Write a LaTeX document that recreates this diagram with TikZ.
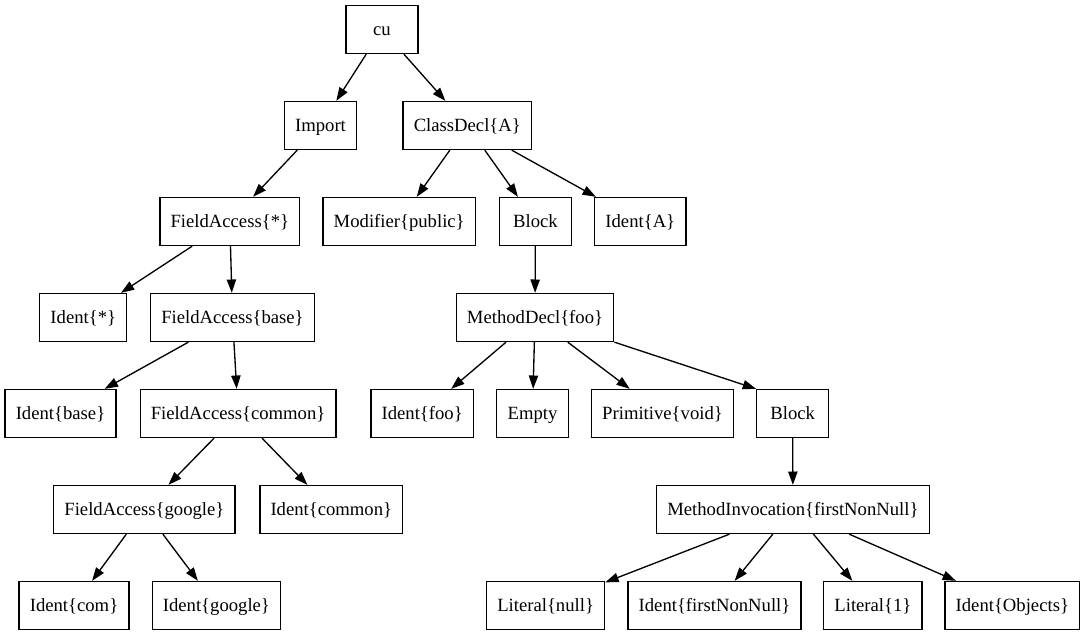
\documentclass[tikz,border=0pt]{standalone}
\usepackage{fontspec}
\setmainfont{Liberation Serif}
\usetikzlibrary{arrows.meta}
\begin{document}
\begin{tikzpicture}[x=0.75pt,y=-0.75pt,
  tnode/.style={draw=black,line width=1pt,rectangle,minimum width=54pt,minimum height=36pt,
    inner xsep=8pt,inner ysep=0pt,text height=11.5pt,text depth=2.3pt,
    font=\fontsize{14pt}{16pt}\selectfont,text=black},
  edge/.style={draw=black,line width=1pt,-{Triangle[length=10pt,width=7pt]}}]
\useasboundingbox (0,0) rectangle (1087,635);
% row 0
\node[tnode] (cu) at (382,29.5) {cu};
% row 1
\node[tnode] (imp) at (320.5,125.5) {Import};
\node[tnode] (cls) at (467.3,125.5) {ClassDecl\{A\}};
% row 2
\node[tnode] (fstar) at (229.8,221.5) {FieldAccess\{*\}};
\node[tnode] (mod) at (399.2,221.5) {Modifier\{public\}};
\node[tnode] (blk) at (535.4,221.5) {Block};
\node[tnode] (ida) at (640.3,221.5) {Ident\{A\}};
% row 3
\node[tnode] (idstar) at (83.3,317.5) {Ident\{*\}};
\node[tnode] (fbase) at (232.5,317.5) {FieldAccess\{base\}};
\node[tnode] (md) at (535,317.5) {MethodDecl\{foo\}};
% row 4
\node[tnode] (idbase) at (60.5,413.5) {Ident\{base\}};
\node[tnode] (fcommon) at (238.1,413.5) {FieldAccess\{common\}};
\node[tnode] (idfoo) at (422.2,413.5) {Ident\{foo\}};
\node[tnode] (empty) at (532.5,413.5) {Empty};
\node[tnode] (prim) at (662.5,413.5) {Primitive\{void\}};
\node[tnode] (blk2) at (792.7,413.5) {Block};
% row 5
\node[tnode] (fgoogle) at (144.4,509.5) {FieldAccess\{google\}};
\node[tnode] (idcommon) at (331.3,509.5) {Ident\{common\}};
\node[tnode] (mi) at (792.9,509.5) {MethodInvocation\{firstNonNull\}};
% row 6
\node[tnode] (idcom) at (74,605.5) {Ident\{com\}};
\node[tnode] (idgoogle) at (216.4,605.5) {Ident\{google\}};
\node[tnode] (litnull) at (545.6,605.5) {Literal\{null\}};
\node[tnode] (idfnn) at (714.5,605.5) {Ident\{firstNonNull\}};
\node[tnode] (lit1) at (872.9,605.5) {Literal\{1\}};
\node[tnode] (idobj) at (1012.3,605.5) {Ident\{Objects\}};
% edges
\draw[edge] (cu) -- (imp);
\draw[edge] (cu) -- (cls);
\draw[edge] (imp) -- (fstar);
\draw[edge] (cls) -- (mod);
\draw[edge] (cls) -- (blk);
\draw[edge] (cls) -- (ida);
\draw[edge] (fstar) -- (idstar);
\draw[edge] (fstar) -- (fbase);
\draw[edge] (blk) -- (md);
\draw[edge] (fbase) -- (idbase);
\draw[edge] (fbase) -- (fcommon);
\draw[edge] (md) -- (idfoo);
\draw[edge] (md) -- (empty);
\draw[edge] (md) -- (prim);
\draw[edge] (md.south east) -- (blk2.north west);
\draw[edge] (fcommon) -- (fgoogle);
\draw[edge] (fcommon) -- (idcommon);
\draw[edge] (blk2) -- (mi);
\draw[edge] (fgoogle) -- (idcom);
\draw[edge] (fgoogle) -- (idgoogle);
\draw[edge] (mi) -- (litnull);
\draw[edge] (mi) -- (idfnn);
\draw[edge] (mi) -- (lit1);
\draw[edge] (mi) -- (idobj);
\end{tikzpicture}
\end{document}
